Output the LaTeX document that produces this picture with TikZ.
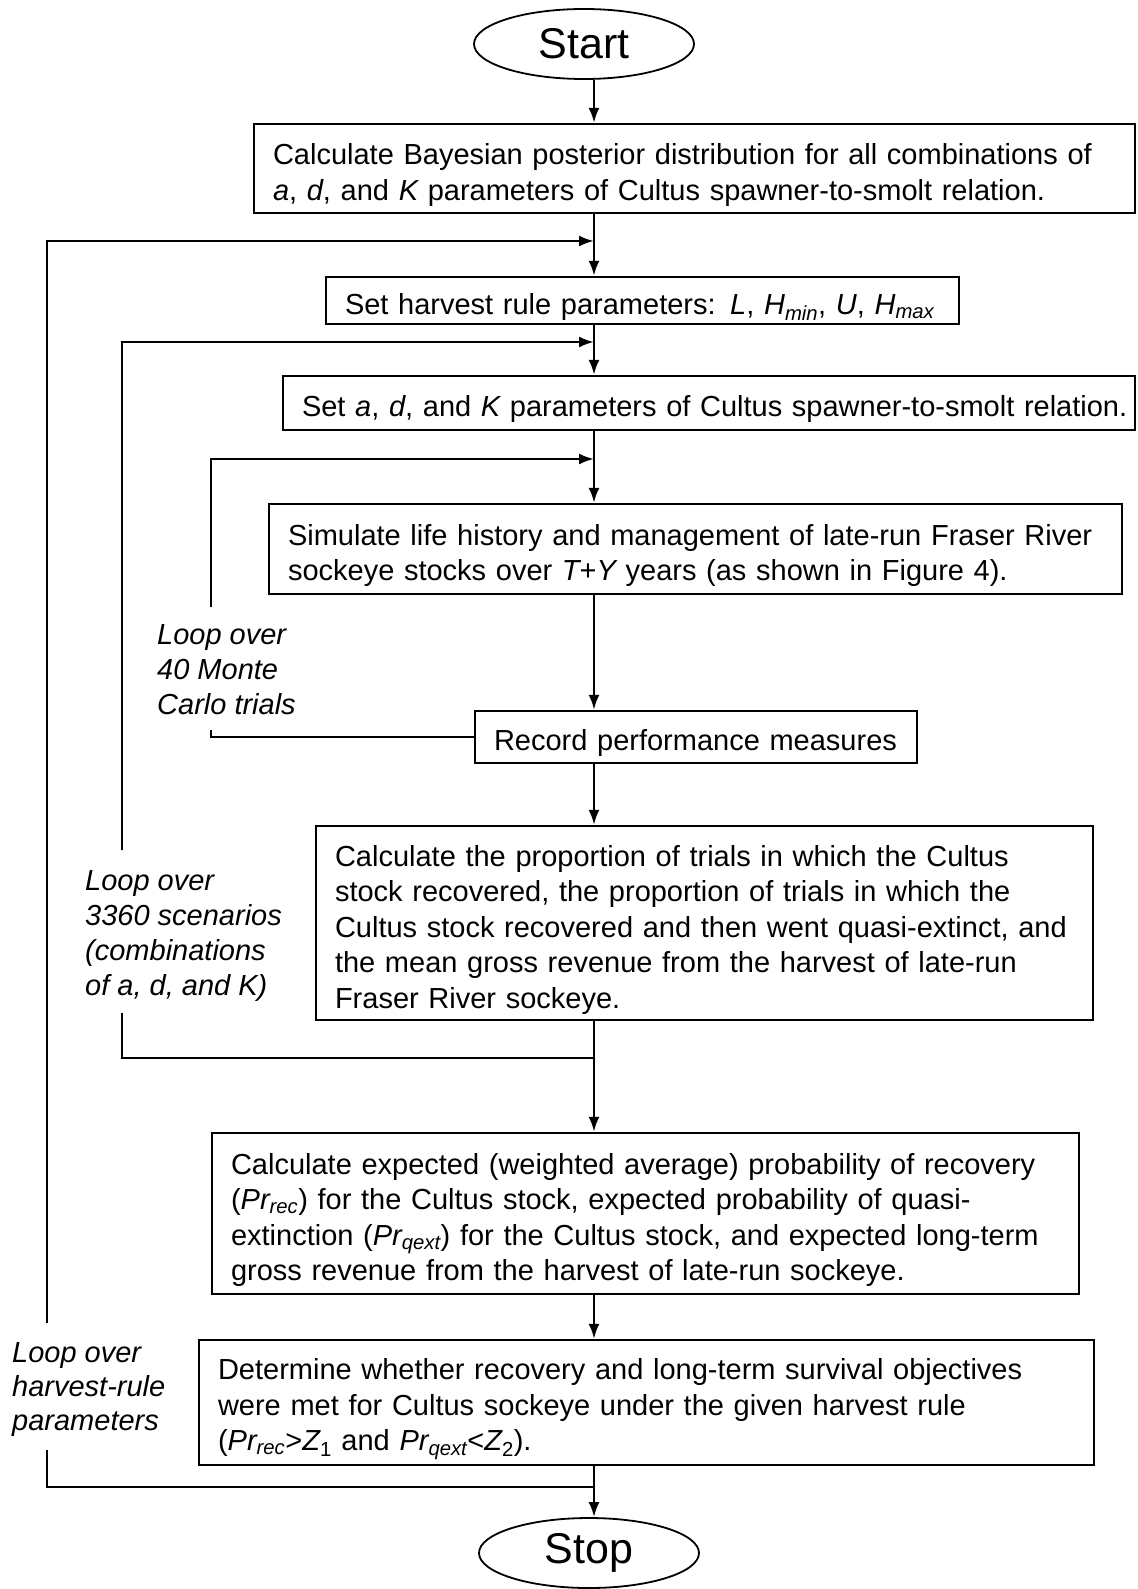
\documentclass[tikz,border=0pt]{standalone}
\usepackage{fontspec}
\setmainfont{Liberation Sans}
\usetikzlibrary{shapes.geometric,arrows.meta}
\begin{document}
\begin{tikzpicture}[x=1pt,y=-1pt,line width=2.4pt,
  procbox/.style={draw,align=left,inner xsep=19pt,inner ysep=0pt,
    font=\fontsize{29}{35.5}\selectfont,
    execute at begin node={\rule{0pt}{34pt}}},
  terminal/.style={draw,ellipse,line width=1.8pt,inner sep=0pt,
    minimum width=220pt,minimum height=70pt,font=\fontsize{43}{50}\selectfont},
  looplabel/.style={align=left,inner sep=0pt,anchor=west,
    font=\fontsize{29}{35}\selectfont\itshape},
  flow/.style={-{Latex[length=15pt,width=11pt]}}]
\useasboundingbox (0,0) rectangle (1137,1589);

% start / stop
\node[terminal] (start) at (584,44) {Start};
\node[terminal] (stop) at (589,1553) {Stop};

% process boxes
\node[procbox,text width=843pt,minimum height=89pt] (posterior) at (694.5,168.5)
  {Calculate Bayesian posterior distribution for all combinations of\\
   {\itshape a}, {\itshape d}, and {\itshape K} parameters of Cultus spawner-to-smolt relation.};
\node[procbox,text width=595pt,minimum height=47pt] (harvest) at (642.5,300.5)
  {Set harvest rule parameters: {\itshape L}, {\itshape H}\textsubscript{\itshape min}, {\itshape U}, {\itshape H}\textsubscript{\itshape max}};
\node[procbox,text width=814pt,minimum height=54pt] (abk) at (709,403)
  {\mbox{Set {\itshape a}, {\itshape d}, and {\itshape K} parameters of Cultus spawner-to-smolt relation.}};
\node[procbox,text width=815pt,minimum height=90pt] (simulate) at (695.5,549)
  {Simulate life history and management of late-run Fraser River\\
   sockeye stocks over {\itshape T}+{\itshape Y} years (as shown in Figure 4).};
\node[procbox,text width=404pt,minimum height=52pt] (record) at (696,737)
  {Record performance measures};
\node[procbox,text width=739pt,minimum height=194pt] (proportion) at (704.5,923)
  {Calculate the proportion of trials in which the Cultus\\
   stock recovered, the proportion of trials in which the\\
   Cultus stock recovered and then went quasi-extinct, and\\
   the mean gross revenue from the harvest of late-run\\
   Fraser River sockeye.};
\node[procbox,text width=829pt,minimum height=161pt] (expected) at (645.5,1213.5)
  {Calculate expected (weighted average) probability of recovery\\
   ({\itshape Pr}\textsubscript{\itshape rec}) for the Cultus stock, expected probability of quasi-\\
   extinction ({\itshape Pr}\textsubscript{\itshape qext}) for the Cultus stock, and expected long-term\\
   gross revenue from the harvest of late-run sockeye.};
\node[procbox,text width=857pt,minimum height=125pt] (determine) at (646.5,1402.5)
  {Determine whether recovery and long-term survival objectives\\
   were met for Cultus sockeye under the given harvest rule\\
   ({\itshape Pr}\textsubscript{\itshape rec}>{\itshape Z}\textsubscript{1} and {\itshape Pr}\textsubscript{\itshape qext}<{\itshape Z}\textsubscript{2}).};

% loop labels
\node[looplabel] (mclabel) at (156,670) {Loop over\\40 Monte\\Carlo trials};
\node[looplabel] (scenlabel) at (84,936) {Loop over\\3360 scenarios\\(combinations\\of a, d, and K)};
\node[looplabel,font=\fontsize{29}{34}\selectfont\itshape] (harvlabel) at (11,1390) {Loop over\\harvest-rule\\parameters};

% junctions on the main line
\coordinate (spine) at (594,0);
\coordinate (jharv) at (594,241);
\coordinate (jscen) at (594,342);
\coordinate (jmc) at (594,459);
\coordinate (jscenout) at (594,1058);
\coordinate (jharvout) at (594,1487);
\coordinate (harvtop) at (47,1323);
\coordinate (harvbot) at (47,1450);
\coordinate (scentop) at (122,850);
\coordinate (scenbot) at (122,1013);
\coordinate (mctop) at (211,607);
\coordinate (mcbot) at (211,730);

% main line
\draw[flow] (start.south -| spine) -- (posterior.north -| spine);
\draw[flow] (posterior.south -| spine) -- (harvest.north -| spine);
\draw[flow] (harvest.south -| spine) -- (abk.north -| spine);
\draw[flow] (abk.south -| spine) -- (simulate.north -| spine);
\draw[flow] (simulate.south -| spine) -- (record.north -| spine);
\draw[flow] (record.south -| spine) -- (proportion.north -| spine);
\draw[flow] (proportion.south -| spine) -- (expected.north -| spine);
\draw[flow] (expected.south -| spine) -- (determine.north -| spine);
\draw[flow] (determine.south -| spine) -- (stop.north -| spine);

% loops
\draw[flow] (harvtop) |- (jharv);
\draw (harvbot) |- (jharvout);
\draw[flow] (scentop) |- (jscen);
\draw (scenbot) |- (jscenout);
\draw[flow] (mctop) |- (jmc);
\draw (mcbot) |- (record.west);
\end{tikzpicture}
\end{document}
